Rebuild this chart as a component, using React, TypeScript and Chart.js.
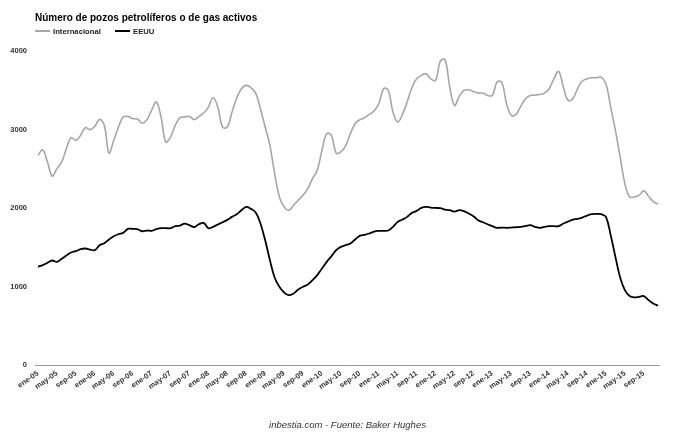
import React, { useEffect, useRef } from 'react';
import { Chart, registerables } from 'chart.js';

Chart.register(...registerables);

const MONTHS = ['ene', 'feb', 'mar', 'abr', 'may', 'jun', 'jul', 'ago', 'sep', 'oct', 'nov', 'dic'];
const YEARS = ['05', '06', '07', '08', '09', '10', '11', '12', '13', '14', '15'];
const categories: string[] = YEARS.flatMap((y) => MONTHS.map((m) => `${m}-${y}`));

const SERIES_NAMES = ['Internacional', 'EEUU'];
const TITLE = 'Número de pozos petrolíferos o de gas activos';
const SOURCE = 'inbestia.com - Fuente: Baker Hughes';
const Y_TICKS = [0, 1000, 2000, 3000, 4000];

const internacional = [
  2671, 2740, 2586, 2408, 2501, 2586, 2756, 2896, 2862, 2926, 3023, 2998,
  3040, 3129, 3053, 2701, 2862, 3032, 3159, 3167, 3138, 3133, 3082, 3125,
  3244, 3350, 3159, 2841, 2904, 3053, 3150, 3159, 3167, 3125, 3167, 3210,
  3286, 3405, 3286, 3030, 3032, 3222, 3405, 3519, 3562, 3532, 3464, 3265,
  3032, 2798, 2438, 2141, 2014, 1972, 2035, 2099, 2162, 2247, 2374, 2480,
  2735, 2947, 2926, 2700, 2714, 2790, 2947, 3074, 3125, 3150, 3193, 3235,
  3328, 3520, 3500, 3222, 3095, 3193, 3350, 3532, 3646, 3689, 3710, 3646,
  3625, 3870, 3890, 3540, 3307, 3422, 3498, 3506, 3485, 3464, 3464, 3434,
  3434, 3604, 3600, 3328, 3180, 3193, 3295, 3392, 3434, 3439, 3447, 3464,
  3519, 3646, 3740, 3540, 3371, 3392, 3519, 3617, 3646, 3659, 3659, 3668,
  3583, 3286, 2989, 2650, 2311, 2141, 2141, 2162, 2218, 2150, 2082, 2048,
];

const eeuu = [
  1251, 1272, 1302, 1331, 1314, 1353, 1395, 1433, 1450, 1476, 1484, 1471,
  1463, 1526, 1552, 1598, 1641, 1666, 1683, 1734, 1734, 1730, 1704, 1713,
  1709, 1730, 1743, 1743, 1743, 1768, 1776, 1802, 1781, 1757, 1793, 1810,
  1743, 1760, 1789, 1819, 1849, 1887, 1921, 1972, 2014, 1989, 1942, 1802,
  1590, 1336, 1115, 996, 924, 890, 912, 962, 996, 1026, 1081, 1145,
  1230, 1314, 1386, 1463, 1505, 1526, 1548, 1598, 1645, 1658, 1675, 1700,
  1709, 1709, 1713, 1760, 1823, 1853, 1887, 1938, 1963, 2001, 2014, 2006,
  2001, 1997, 1980, 1972, 1955, 1972, 1959, 1929, 1895, 1844, 1819, 1793,
  1768, 1747, 1751, 1747, 1751, 1755, 1760, 1768, 1781, 1760, 1747, 1760,
  1768, 1768, 1768, 1802, 1827, 1853, 1861, 1878, 1904, 1921, 1925, 1921,
  1887, 1654, 1378, 1115, 954, 878, 861, 869, 878, 827, 784, 755,
];

const COLORS = ['#a6a6a6', '#000000'];
const FONT = '"Liberation Sans", Arial, Helvetica, sans-serif';

const decorPlugin = {
  id: 'decor',
  beforeDatasetsDraw(chart: any) {
    const { ctx, chartArea, scales } = chart;
    const y0 = Math.round(scales.y.getPixelForValue(0)) + 0.5;
    ctx.save();
    ctx.strokeStyle = '#9a9a9a';
    ctx.lineWidth = 1;
    ctx.beginPath();
    ctx.moveTo(chartArea.left - 3, y0);
    ctx.lineTo(chartArea.right + 2, y0);
    ctx.stroke();
    ctx.restore();
  },
  afterDraw(chart: any) {
    const { ctx } = chart;
    ctx.save();
    ctx.textBaseline = 'alphabetic';
    ctx.textAlign = 'left';
    ctx.fillStyle = '#000';
    ctx.font = `bold 10px ${FONT}`;
    ctx.fillText(TITLE, 35, 21);

    // legend
    ctx.font = `bold 7.7px ${FONT}`;
    const items = [
      { x: 35, name: SERIES_NAMES[0], color: COLORS[0] },
      { x: 115, name: SERIES_NAMES[1], color: COLORS[1] },
    ];
    items.forEach((it) => {
      ctx.strokeStyle = it.color;
      ctx.lineWidth = 2;
      ctx.beginPath();
      ctx.moveTo(it.x, 31);
      ctx.lineTo(it.x + 15, 31);
      ctx.stroke();
      ctx.fillStyle = '#222';
      ctx.fillText(it.name, it.x + 18, 33.5);
    });

    // footer
    ctx.font = `italic 9.5px ${FONT}`;
    ctx.fillStyle = '#333';
    ctx.textAlign = 'center';
    ctx.fillText(SOURCE, 347.5, 427.5);
    ctx.restore();
  },
};

export default function App() {
  const canvasRef = useRef<HTMLCanvasElement | null>(null);

  useEffect(() => {
    if (!canvasRef.current) return;
    const chart = new Chart(canvasRef.current, {
      type: 'line',
      data: {
        labels: categories,
        datasets: [
          {
            label: SERIES_NAMES[0],
            data: internacional,
            borderColor: COLORS[0],
            backgroundColor: COLORS[0],
            borderWidth: 1.6,
            pointRadius: 0,
            tension: 0.4,
            fill: false,
          },
          {
            label: SERIES_NAMES[1],
            data: eeuu,
            borderColor: COLORS[1],
            backgroundColor: COLORS[1],
            borderWidth: 1.8,
            pointRadius: 0,
            tension: 0.4,
            fill: false,
          },
        ],
      },
      options: {
        responsive: false,
        animation: false,
        layout: { padding: { left: 0, right: 22, top: 51, bottom: 0 } },
        plugins: {
          legend: { display: false },
          title: { display: false },
          tooltip: { enabled: false },
        },
        scales: {
          x: {
            type: 'category',
            grid: { display: false, drawTicks: false },
            border: { display: false },
            ticks: {
              autoSkip: false,
              minRotation: 35,
              maxRotation: 35,
              padding: 4,
              color: '#333',
              font: { size: 7.5, weight: 'bold', family: FONT },
              callback: (_v: any, i: number) => (i % 4 === 0 ? categories[i] : ''),
            },
            afterFit: (s: any) => {
              s.height = 73;
            },
          },
          y: {
            min: 0,
            max: 4000,
            grid: { display: false, drawTicks: false },
            border: { display: false },
            afterBuildTicks: (s: any) => {
              s.ticks = Y_TICKS.map((v) => ({ value: v }));
            },
            ticks: {
              padding: 11,
              color: '#333',
              font: { size: 7.5, weight: 'bold', family: FONT },
              callback: (v: any) => String(v),
            },
            afterFit: (s: any) => {
              s.width = 38;
            },
          },
        },
      },
      plugins: [decorPlugin],
    });
    return () => chart.destroy();
  }, []);

  return (
    <div style={{ position: 'fixed', left: 0, top: 0, width: 680, height: 438, background: '#fff' }}>
      <canvas ref={canvasRef} width={680} height={438} />
    </div>
  );
}
